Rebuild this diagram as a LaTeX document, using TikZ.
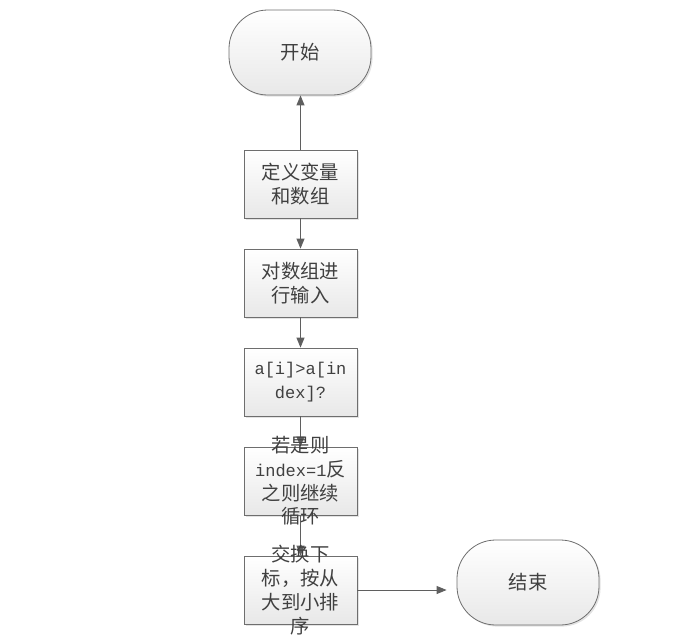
\documentclass[tikz,border=0pt]{standalone}
\usepackage{fontspec}
\newfontfamily\cjk{Noto Sans CJK SC}
\newfontfamily\monofam[Scale=0.88]{Liberation Mono}
\newcommand{\asc}[1]{{\monofam #1}}
\usetikzlibrary{arrows.meta,shadows}
\definecolor{txt}{HTML}{404040}
\definecolor{edge}{HTML}{6E6E6E}
\definecolor{arr}{HTML}{5F5F5F}
\tikzset{
  base/.style={draw=edge, line width=0.6pt, top color=white, bottom color=black!9,
    text=txt, align=center,
    font=\cjk\fontsize{14.5pt}{17.8pt}\selectfont,
    drop shadow={shadow xshift=1.2pt, shadow yshift=-1.2pt, fill=black!18, opacity=0.6}},
  procbox/.style={base, minimum width=84.75pt, minimum height=51pt, inner sep=0pt},
  termbox/.style={base, minimum width=106.5pt, minimum height=63.75pt, rounded corners=29pt, inner sep=0pt},
  conn/.style={draw=arr, line width=0.7pt, -{Triangle[width=6pt,length=7.5pt]}, arr},
  overtext/.style={text=txt, align=center, font=\cjk\fontsize{14.5pt}{17.8pt}\selectfont, inner sep=0pt}
}
\begin{document}
\begin{tikzpicture}[x=0.75pt,y=-0.75pt]
\useasboundingbox (0,0) rectangle (687,640);
\node[termbox] (start) at (300,52.5) {开始};
\node[procbox] (def) at (300.5,184) {定义变量\\和数组};
\node[procbox] (inp) at (300.5,283) {对数组进\\行输入};
\node[procbox] (cmp) at (300.5,382) {\asc{a[i]>a[in}\\\asc{dex]?}};
\node[procbox] (ift) at (300.5,481) {};
\node[procbox] (swp) at (300.5,590) {};
\node[termbox] (end) at (528,582.5) {结束};
\draw[conn] (def.north) -- (def.north |- start.south);
\draw[conn] (def.south) -- (inp.north);
\draw[conn] (inp.south) -- (cmp.north);
\draw[conn] (cmp.south) -- (ift.north);
\draw[conn] (ift.south) -- (swp.north);
\draw[conn, shorten >=7.5pt] (swp.east) -- (swp.east -| end.west);
\node[overtext] (iftxt) at (ift.center) {若是则\\\asc{index=1}反\\之则继续\\循环};
\node[overtext] (swptxt) at (swp.center) {交换下\\标，按从\\大到小排\\序};
\end{tikzpicture}
\end{document}
